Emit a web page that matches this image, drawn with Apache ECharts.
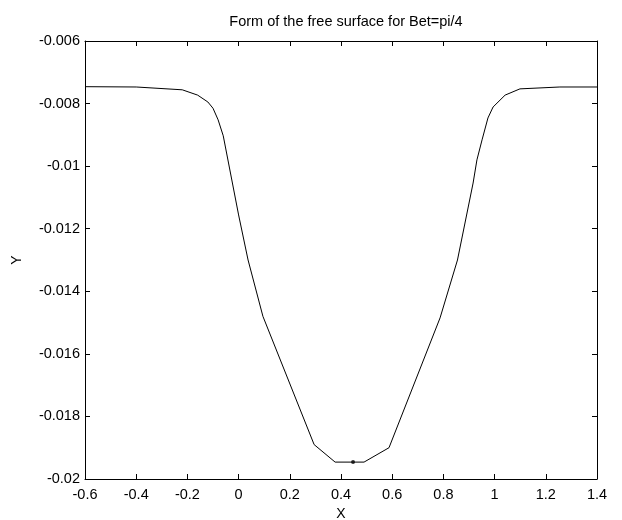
<!DOCTYPE html>
<html>
<head>
<meta charset="utf-8">
<script src="https://cdn.jsdelivr.net/npm/echarts@6/dist/echarts.min.js"></script>
<style>html,body{margin:0;padding:0;background:#fff}#c{width:622px;height:520px}</style>
</head>
<body>
<div id="c"></div>
<script>
var titleText = "Form of the free surface for Bet=pi/4";
var xLabel = "X";
var yLabel = "Y";
var xValues = [-0.6, -0.4, -0.22, -0.16, -0.12, -0.1, -0.08, -0.06, 0.0, 0.037, 0.095, 0.295, 0.377, 0.49, 0.5875, 0.787, 0.855, 0.916, 0.931, 0.951, 0.974, 0.994, 1.041, 1.099, 1.255, 1.4];
var yValues = [-0.00746, -0.00747, -0.00756, -0.00773, -0.00795, -0.00815, -0.00852, -0.00903, -0.01156, -0.0130, -0.0148, -0.0189, -0.01946, -0.01946, -0.0190, -0.01485, -0.0130, -0.01054, -0.0098, -0.00916, -0.00846, -0.00811, -0.00773, -0.00753, -0.00747, -0.00747];
var markX = [0.447];
var markY = [-0.01946];
var xTicks = {min: -0.6, max: 1.4, step: 0.2};
var yTicks = {min: -0.02, max: -0.006, step: 0.002};

var lineData = xValues.map(function (x, i) { return [x, yValues[i]]; });
var markData = markX.map(function (x, i) { return [x, markY[i]]; });
var font = 'Liberation Sans, Arial, sans-serif';
function fmt(d) { return function (v) { return String(+v.toFixed(d)); }; }
var axisLineStyle = {onZero: false, lineStyle: {color: '#000', width: 1}};
var tickStyle = {show: true, inside: true, length: 5, lineStyle: {color: '#000', width: 1}};
var chart = echarts.init(document.getElementById('c'), null, {renderer: 'canvas'});
chart.setOption({
  animation: false,
  backgroundColor: '#fff',
  title: {text: titleText, left: 341, top: 9, textAlign: 'center',
    textStyle: {fontFamily: font, fontSize: 14.5, fontWeight: 'normal', color: '#000'}},
  grid: {left: 85, right: 25, top: 41, bottom: 41, containLabel: false, outerBoundsMode: 'none'},
  xAxis: [
    {type: 'value', position: 'bottom', min: xTicks.min, max: xTicks.max, interval: xTicks.step,
     name: xLabel, nameLocation: 'middle', nameGap: 26,
     nameTextStyle: {fontFamily: font, fontSize: 14, color: '#000'},
     axisLine: axisLineStyle, axisTick: tickStyle,
     axisLabel: {formatter: fmt(1), fontFamily: font, fontSize: 14.5, color: '#000', margin: 8},
     splitLine: {show: false}},
    {type: 'value', position: 'top', min: xTicks.min, max: xTicks.max, interval: xTicks.step,
     axisLine: axisLineStyle, axisTick: tickStyle,
     axisLabel: {show: false}, splitLine: {show: false}}
  ],
  yAxis: [
    {type: 'value', position: 'left', min: yTicks.min, max: yTicks.max, interval: yTicks.step,
     name: yLabel, nameLocation: 'middle', nameGap: 61, nameRotate: 90,
     nameTextStyle: {fontFamily: font, fontSize: 14, color: '#000'},
     axisLine: axisLineStyle, axisTick: tickStyle,
     axisLabel: {formatter: fmt(3), fontFamily: font, fontSize: 14.5, color: '#000', margin: 5},
     splitLine: {show: false}},
    {type: 'value', position: 'right', min: yTicks.min, max: yTicks.max, interval: yTicks.step,
     axisLine: axisLineStyle, axisTick: tickStyle,
     axisLabel: {show: false}, splitLine: {show: false}}
  ],
  series: [
    {type: 'line', xAxisIndex: 0, yAxisIndex: 0, data: lineData, showSymbol: false, symbol: 'none',
     lineStyle: {color: '#000', width: 1}},
    {type: 'scatter', xAxisIndex: 0, yAxisIndex: 0, data: markData, symbol: 'circle', symbolSize: 4,
     itemStyle: {color: '#000'}}
  ]
});
</script>
</body>
</html>
